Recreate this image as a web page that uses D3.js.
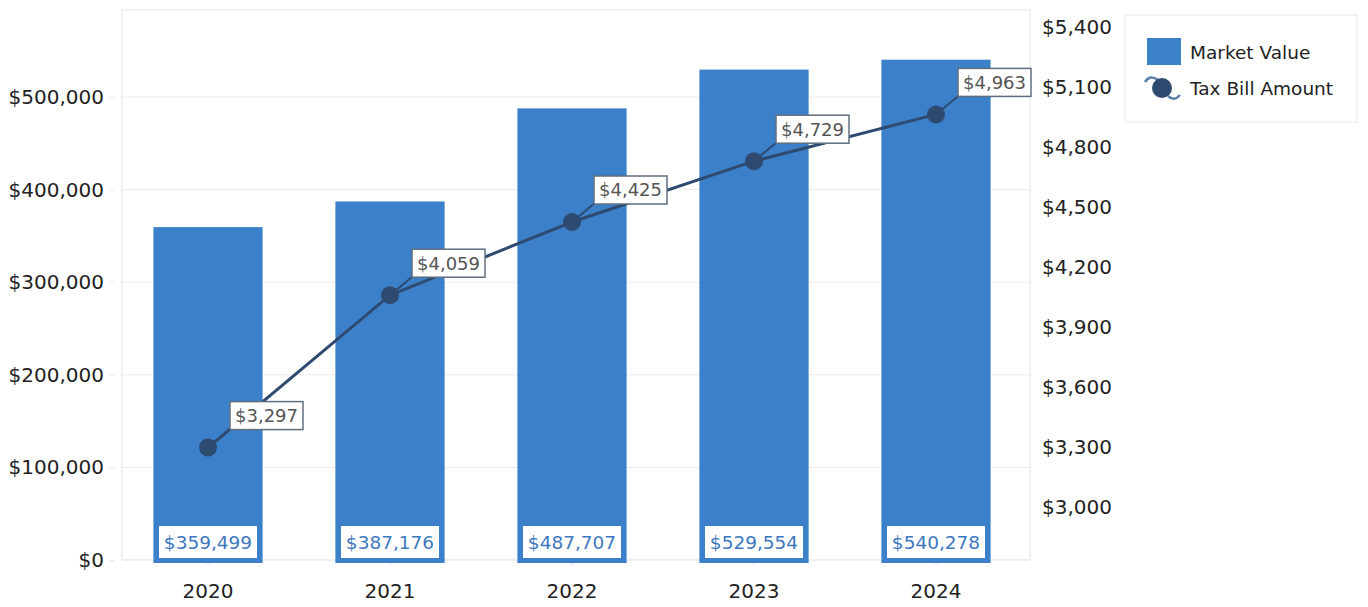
<!DOCTYPE html>
<html>
<head>
<meta charset="utf-8">
<script src="https://d3js.org/d3.v7.min.js"></script>
<style>
  body { margin: 0; background: #fff; }
  text { font-family: "DejaVu Sans", Verdana, sans-serif; }
</style>
</head>
<body>
<script>
    let years = ["2020", "2021", "2022", "2023", "2024"];
    let marketValue = [359499, 387176, 487707, 529554, 540278];
    let taxBill = [3297, 4059, 4425, 4729, 4963];
    let leftTicks = [0, 100000, 200000, 300000, 400000, 500000];
    let rightTicks = [3000, 3300, 3600, 3900, 4200, 4500, 4800, 5100, 5400];
    let legendItems = ["Market Value", "Tax Bill Amount"];

    let width = 1368, height = 607;
    let plot = {left: 122, right: 1030, top: 10, bottom: 560};

    let svg = d3.select("body").append("svg")
        .attr("width", width)
        .attr("height", height);

    let x = d3.scaleBand()
        .domain(years)
        .range([117, 1027])
        .paddingInner(0.4)
        .paddingOuter(0.2);

    let yLeft = d3.scaleLinear()
        .domain([0, 500000])
        .range([560, 97]);

    let yRight = d3.scaleLinear()
        .domain([3000, 5400])
        .range([507, 27]);

    let money = d3.format("$,");

    // frame + grid
    svg.append("rect")
        .attr("x", plot.left).attr("y", plot.top)
        .attr("width", plot.right - plot.left)
        .attr("height", plot.bottom - plot.top)
        .attr("fill", "none")
        .attr("stroke", "#e4e4e4");

    svg.append("g")
        .selectAll("line")
        .data(leftTicks)
        .join("line")
        .attr("x1", plot.left).attr("x2", plot.right)
        .attr("y1", d => yLeft(d)).attr("y2", d => yLeft(d))
        .attr("stroke", "#ececec");

    // left axis
    let leftAxis = svg.append("g")
        .attr("transform", `translate(${plot.left - 8},0)`)
        .call(d3.axisLeft(yLeft).tickValues(leftTicks).tickFormat(money).tickSize(4).tickPadding(6));
    leftAxis.select(".domain").remove();
    leftAxis.selectAll(".tick line").attr("stroke", "#e6e6e6");
    leftAxis.selectAll("text").attr("font-size", 20).attr("fill", "#222");

    // right axis
    let rightAxis = svg.append("g")
        .attr("transform", `translate(${plot.right + 8},0)`)
        .call(d3.axisRight(yRight).tickValues(rightTicks).tickFormat(money).tickSize(0).tickPadding(4));
    rightAxis.select(".domain").remove();
    rightAxis.selectAll("text").attr("font-size", 20).attr("fill", "#222");

    // x axis
    let xAxis = svg.append("g")
        .attr("transform", `translate(0,${plot.bottom})`)
        .call(d3.axisBottom(x).tickSize(5).tickPadding(19));
    xAxis.select(".domain").remove();
    xAxis.selectAll(".tick line").attr("stroke", "#dcdcdc");
    xAxis.selectAll("text").attr("font-size", 20).attr("fill", "#222");

    // bars
    let barColor = "#3b80c9";
    svg.append("g")
        .selectAll("rect")
        .data(marketValue)
        .join("rect")
        .attr("x", (d, i) => x(years[i]))
        .attr("y", d => yLeft(d))
        .attr("width", x.bandwidth())
        .attr("height", d => yLeft(0) - yLeft(d) + 3)
        .attr("fill", barColor);

    // bar labels
    let barLab = svg.append("g")
        .selectAll("g")
        .data(marketValue)
        .join("g")
        .attr("transform", (d, i) => `translate(${x(years[i]) + x.bandwidth() / 2},542)`);
    barLab.append("rect")
        .attr("x", -49).attr("y", -16)
        .attr("width", 98).attr("height", 32)
        .attr("fill", "#fff");
    barLab.append("text")
        .attr("text-anchor", "middle")
        .attr("dy", "0.36em")
        .attr("font-size", 18.5)
        .attr("fill", "#3d78bf")
        .text(d => money(d));

    // line
    let lineColor = "#2e4a70";
    let line = d3.line()
        .x((d, i) => x(years[i]) + x.bandwidth() / 2)
        .y(d => yRight(d));

    svg.append("path")
        .datum(taxBill)
        .attr("fill", "none")
        .attr("stroke", lineColor)
        .attr("stroke-width", 3)
        .attr("d", line);

    // leader lines + labels
    let tl = svg.append("g")
        .selectAll("g")
        .data(taxBill)
        .join("g")
        .attr("transform", (d, i) => `translate(${x(years[i]) + x.bandwidth() / 2},${yRight(d)})`);
    tl.append("line")
        .attr("x1", 0).attr("y1", 0)
        .attr("x2", 24).attr("y2", -20)
        .attr("stroke", lineColor)
        .attr("stroke-width", 2);
    tl.append("rect")
        .attr("x", 22).attr("y", -46)
        .attr("width", 73).attr("height", 28)
        .attr("fill", "#fff")
        .attr("stroke", "#5f6f80")
        .attr("stroke-width", 1.5);
    tl.append("text")
        .attr("x", 58.5).attr("y", -32)
        .attr("text-anchor", "middle")
        .attr("dy", "0.36em")
        .attr("font-size", 18)
        .attr("fill", "#555")
        .text(d => money(d));

    // dots
    svg.append("g")
        .selectAll("circle")
        .data(taxBill)
        .join("circle")
        .attr("cx", (d, i) => x(years[i]) + x.bandwidth() / 2)
        .attr("cy", d => yRight(d))
        .attr("r", 9)
        .attr("fill", lineColor);

    // legend
    let legend = svg.append("g");
    legend.append("rect")
        .attr("x", 1125).attr("y", 15)
        .attr("width", 232).attr("height", 107)
        .attr("fill", "#fff")
        .attr("stroke", "#e8e8e8");
    legend.append("rect")
        .attr("x", 1147).attr("y", 38)
        .attr("width", 34).attr("height", 27)
        .attr("fill", barColor);
    legend.append("path")
        .attr("d", "M1145,82 Q1150,74 1158,80 M1168,96 Q1174,102 1180,95")
        .attr("fill", "none")
        .attr("stroke", "#5a7fa8")
        .attr("stroke-width", 2.5);
    legend.append("circle")
        .attr("cx", 1162).attr("cy", 88)
        .attr("r", 10)
        .attr("fill", lineColor);
    legend.selectAll("text.leg")
        .data(legendItems)
        .join("text")
        .attr("class", "leg")
        .attr("x", 1190)
        .attr("y", (d, i) => 52 + i * 36)
        .attr("dy", "0.36em")
        .attr("font-size", 18.5)
        .attr("fill", "#222")
        .text(d => d);
</script>
</body>
</html>
